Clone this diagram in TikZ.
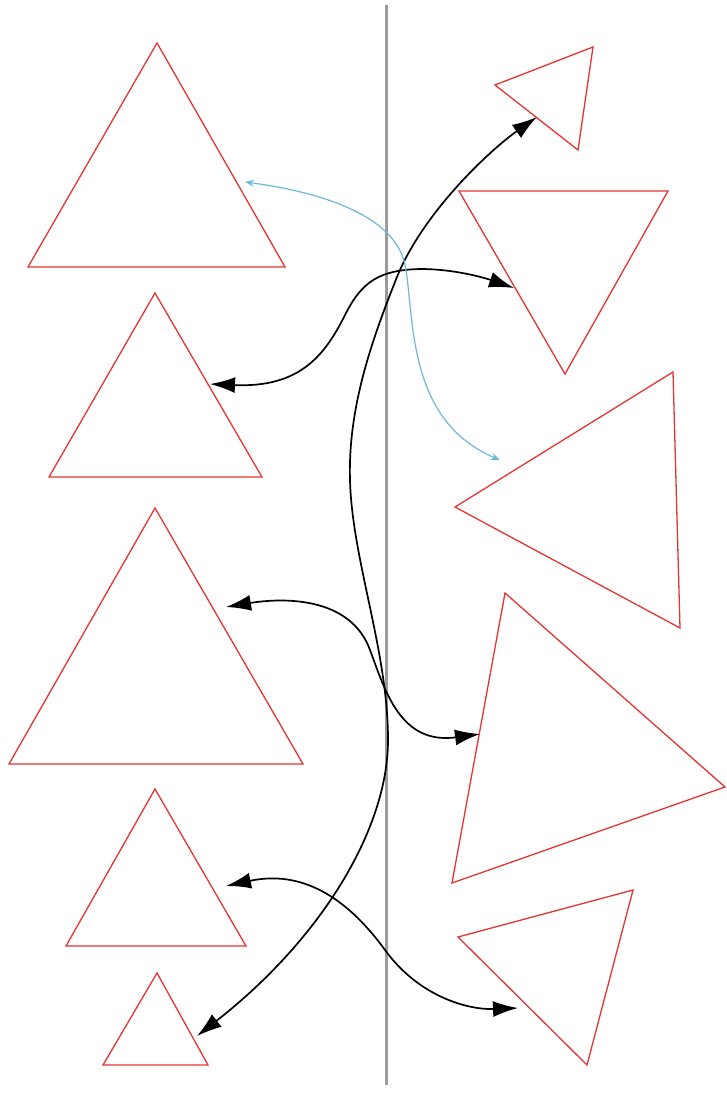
\documentclass[tikz,border=0pt]{standalone}
\usepackage{tikz}
\usetikzlibrary{arrows.meta, positioning, calc}
\definecolor{trired}{RGB}{228,52,52}
\definecolor{linkblue}{RGB}{110,185,215}
\definecolor{axisgray}{RGB}{155,155,155}
\tikzset{/Shapes/tri/.style={
	draw=trired, line width=1.3pt, line join=miter
}}
\tikzset{/Shapes/link/.style={
	draw=black, line width=1.7pt, {Latex[length=25pt,width=16pt]}-{Latex[length=25pt,width=16pt]}
}}
\tikzset{/Shapes/thinlink/.style={
	draw=linkblue, line width=1.2pt, {Stealth[length=9pt,width=7pt]}-{Stealth[length=9pt,width=7pt]}
}}

\begin{document}
\begin{tikzpicture}[x=1pt, y=-1pt]
\useasboundingbox (0,0) rectangle (727,1113);
{%\footnotesize
\coordinate (top) at (386,5);
\coordinate (bottom) at (386,1085);
\draw[axisgray, line width=3pt] (top) -- (bottom);

% left column
\draw[/Shapes/tri] (157,43) -- (285,267) -- (28,267) -- cycle;
\draw[/Shapes/tri] (155,293) -- (262,477) -- (49,477) -- cycle;
\draw[/Shapes/tri] (155,508) -- (303,764) -- (9,764) -- cycle;
\draw[/Shapes/tri] (155,789) -- (246,946) -- (66,946) -- cycle;
\draw[/Shapes/tri] (157,973) -- (208,1065) -- (103,1065) -- cycle;

% right column
\draw[/Shapes/tri] (495,85) -- (593,47) -- (578,150) -- cycle;
\draw[/Shapes/tri] (459,191) -- (668,191) -- (565,374) -- cycle;
\draw[/Shapes/tri] (455,507) -- (673,372) -- (680,628) -- cycle;
\draw[/Shapes/tri] (505,593) -- (725,787) -- (452,883) -- cycle;
\draw[/Shapes/tri] (458,937) -- (633,890) -- (587,1065) -- cycle;
}

\coordinate (lone) at (245,182);
\coordinate (ltwo) at (210,384);
\coordinate (lthree) at (226,607);
\coordinate (lfour) at (226,886);
\coordinate (lfive) at (197,1036);
\coordinate (rone) at (537,117);
\coordinate (rtwo) at (514,288);
\coordinate (rthree) at (500,460);
\coordinate (rfour) at (480,734);
\coordinate (rfive) at (518,1008);

{
\path[/Shapes/link] (ltwo) .. controls (300,388) and (325,355) .. (345,315)
  .. controls (362,281) and (380,270) .. (420,269)
  .. controls (455,269) and (485,278) .. (rtwo);
\path[/Shapes/link] (rone) .. controls (490,150) and (420,215) .. (395,282)
  .. controls (370,345) and (348,410) .. (350,480)
  .. controls (352,560) and (388,650) .. (388,740)
  .. controls (388,830) and (320,940) .. (lfive);
\path[/Shapes/link] (lthree) .. controls (280,598) and (350,595) .. (370,650)
  .. controls (385,690) and (400,745) .. (rfour);
\path[/Shapes/link] (lfour) .. controls (300,870) and (345,895) .. (385,950)
  .. controls (420,998) and (470,1010) .. (rfive);
}

{
\path[/Shapes/thinlink] (lone) .. controls (320,192) and (395,215) .. (405,265)
  .. controls (415,315) and (405,420) .. (rthree);
}
\end{tikzpicture}
\end{document}
